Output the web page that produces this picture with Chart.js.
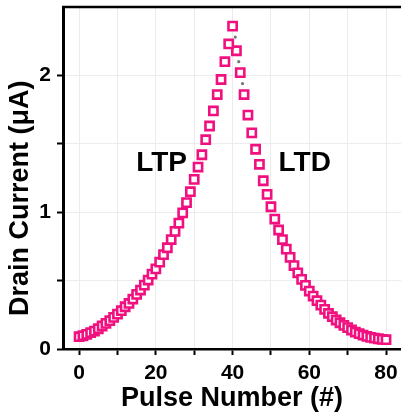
<!DOCTYPE html>
<html>
<head>
<meta charset="utf-8">
<script src="https://cdn.jsdelivr.net/npm/chart.js@4.4.1/dist/chart.umd.min.js"></script>
<style>
  html, body { margin: 0; padding: 0; background: #fff; }
  #wrap { width: 401px; height: 420px; }
</style>
</head>
<body>
<div id="wrap"><canvas id="pulseChart" width="401" height="420"></canvas></div>
<script>
// potentiation: pulses 0-40
const ltpPulses = [0, 1, 2, 3, 4, 5, 6, 7, 8, 9, 10, 11, 12, 13, 14, 15, 16, 17, 18, 19, 20,
  21, 22, 23, 24, 25, 26, 27, 28, 29, 30, 31, 32, 33, 34, 35, 36, 37, 38, 39, 40];
const ltpCurrent = [0.090, 0.097, 0.107, 0.119, 0.131, 0.148, 0.168, 0.187, 0.207, 0.231, 0.255,
  0.280, 0.309, 0.333, 0.365, 0.399, 0.431, 0.467, 0.504, 0.547, 0.586,
  0.635, 0.690, 0.740, 0.800, 0.860, 0.920, 0.995, 1.070, 1.150, 1.240,
  1.330, 1.420, 1.530, 1.630, 1.740, 1.860, 1.970, 2.100, 2.230, 2.360];

// depression: pulses 41-80
const ltdPulses = [41, 42, 43, 44, 45, 46, 47, 48, 49, 50, 51, 52, 53, 54, 55, 56, 57, 58, 59, 60,
  61, 62, 63, 64, 65, 66, 67, 68, 69, 70, 71, 72, 73, 74, 75, 76, 77, 78, 79, 80];
const ltdCurrent = [2.180, 2.020, 1.860, 1.710, 1.580, 1.460, 1.350, 1.230, 1.130, 1.040,
  0.950, 0.870, 0.800, 0.730, 0.670, 0.610, 0.557, 0.509, 0.465, 0.423,
  0.387, 0.353, 0.321, 0.290, 0.260, 0.236, 0.212, 0.192, 0.173, 0.156,
  0.139, 0.124, 0.112, 0.102, 0.092, 0.085, 0.080, 0.075, 0.070, 0.068];

// small grey dots visible between the squares near the peak
const greyPulses = [40.7, 41.6, 42.6];
const greyCurrent = [2.28, 2.10, 1.94];

const xTickValues = [0, 10, 20, 30, 40, 50, 60, 70, 80];
const xTickLabels = ['0', '', '20', '', '40', '', '60', '', '80'];
const yTickValues = [0, 0.5, 1, 1.5, 2];
const yTickLabels = ['0', '', '1', '', '2'];

const PINK = '#f0107f';
const FONT = '"Liberation Sans", Arial, sans-serif';

const toPoints = (xs, ys) => xs.map((x, i) => ({ x: x, y: ys[i] }));

// top frame line + LTP / LTD text
const frameAndLabels = {
  id: 'frameAndLabels',
  afterDraw(chart) {
    const { ctx, chartArea, scales } = chart;
    ctx.save();
    ctx.strokeStyle = '#000';
    ctx.lineWidth = 2.5;
    ctx.beginPath();
    ctx.moveTo(chartArea.left - 1, chartArea.top);
    ctx.lineTo(chartArea.right, chartArea.top);
    ctx.stroke();

    ctx.font = 'bold 28px ' + FONT;
    ctx.fillStyle = '#000';
    ctx.textAlign = 'center';
    ctx.textBaseline = 'middle';
    ctx.fillText('LTP', scales.x.getPixelForValue(21.5), scales.y.getPixelForValue(1.36));
    ctx.fillText('LTD', scales.x.getPixelForValue(58.8), scales.y.getPixelForValue(1.36));
    ctx.restore();
  }
};

const ctx = document.getElementById('pulseChart').getContext('2d');

new Chart(ctx, {
  type: 'scatter',
  data: {
    datasets: [
      {
        label: 'LTP',
        data: toPoints(ltpPulses, ltpCurrent),
        pointStyle: 'rect',
        pointRadius: 5.8,
        pointBorderWidth: 2.6,
        borderColor: PINK,
        backgroundColor: '#fff',
        order: 1
      },
      {
        label: 'LTD',
        data: toPoints(ltdPulses, ltdCurrent),
        pointStyle: 'rect',
        pointRadius: 5.8,
        pointBorderWidth: 2.6,
        borderColor: PINK,
        backgroundColor: '#fff',
        order: 1
      },
      {
        label: 'dots',
        data: toPoints(greyPulses, greyCurrent),
        pointStyle: 'circle',
        pointRadius: 1.6,
        pointBorderWidth: 0,
        borderColor: '#777',
        backgroundColor: '#777',
        order: 2
      }
    ]
  },
  options: {
    responsive: false,
    animation: false,
    layout: { autoPadding: false, padding: { top: 7, right: 0, bottom: 0, left: 0 } },
    plugins: {
      legend: { display: false },
      tooltip: { enabled: false }
    },
    scales: {
      x: {
        type: 'linear',
        min: -4.2,
        max: 83.9,
        afterFit: (s) => { s.height = 71; s.paddingLeft = 0; s.paddingRight = 0; },
        afterBuildTicks: (s) => { s.ticks = xTickValues.map((v) => ({ value: v })); },
        border: { color: '#000', width: 2.5 },
        grid: { color: '#ececec', lineWidth: 1, tickColor: '#000', tickLength: 6, tickWidth: 2 },
        ticks: {
          color: '#000',
          padding: 6,
          maxRotation: 0,
          autoSkip: false,
          font: { family: FONT, size: 21, weight: 'bold' },
          callback: (v, i) => xTickLabels[i]
        },
        title: {
          display: true,
          text: 'Pulse Number (#)',
          color: '#000',
          padding: { top: 0, bottom: 5 },
          font: { family: FONT, size: 27, weight: 'bold' }
        }
      },
      y: {
        type: 'linear',
        min: 0,
        max: 2.5,
        afterFit: (s) => { s.width = 63; s.paddingTop = 0; s.paddingBottom = 0; },
        afterBuildTicks: (s) => { s.ticks = yTickValues.map((v) => ({ value: v })); },
        border: { color: '#000', width: 3 },
        grid: { color: '#ececec', lineWidth: 1, tickColor: '#000', tickLength: 6, tickWidth: 2 },
        ticks: {
          color: '#000',
          padding: 6,
          autoSkip: false,
          font: { family: FONT, size: 21, weight: 'bold' },
          callback: (v, i) => yTickLabels[i]
        },
        title: {
          display: true,
          text: 'Drain Current (\u03bcA)\u2003\u2002',
          color: '#000',
          padding: { top: 4, bottom: 0 },
          font: { family: FONT, size: 27, weight: 'bold' }
        }
      }
    }
  },
  plugins: [frameAndLabels]
});
</script>
</body>
</html>
